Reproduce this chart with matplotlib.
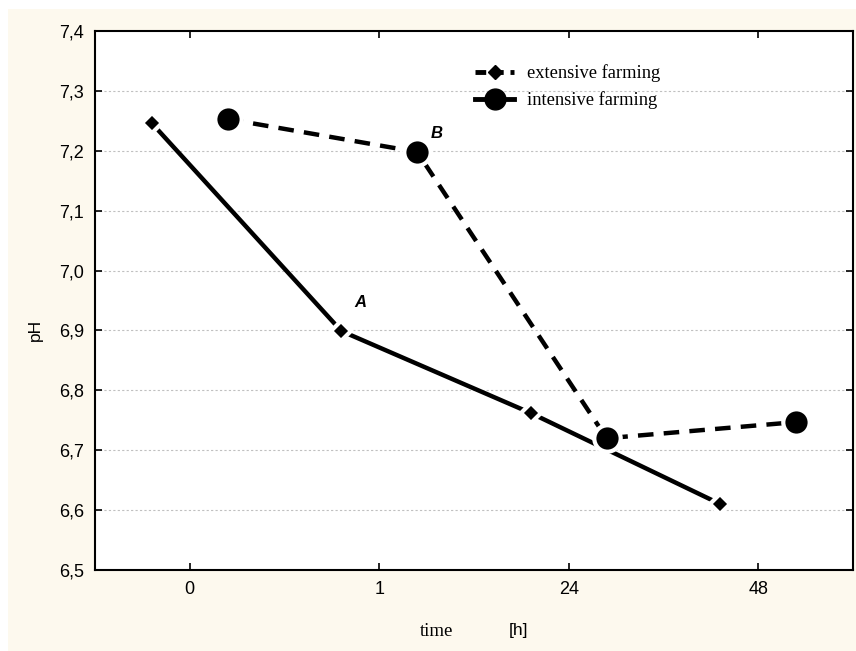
import matplotlib
matplotlib.use("Agg")
import matplotlib.pyplot as plt
from matplotlib.patches import Rectangle
from matplotlib.lines import Line2D
import numpy as np

categories = ["0", "1", "24", "48"]
solid_vals = [7.246, 6.899, 6.762, 6.610]    # small diamonds, solid line
dashed_vals = [7.253, 7.198, 6.720, 6.747]   # big circles, dashed line
yticks = [6.5, 6.6, 6.7, 6.8, 6.9, 7.0, 7.1, 7.2, 7.3, 7.4]
ytick_labels = ["6,5", "6,6", "6,7", "6,8", "6,9", "7,0", "7,1", "7,2", "7,3", "7,4"]

fig = plt.figure(figsize=(8.56, 6.51), dpi=100)
fig.patch.set_facecolor("white")
bg = Rectangle((8/856, 0), 1, 1 - 9/651, transform=fig.transFigure,
               facecolor="#fdf9ee", edgecolor="none", zorder=-10)
fig.add_artist(bg)

ax = fig.add_axes([95/856, 1 - 570/651, (853-95)/856, (570-31)/651])
ax.set_zorder(5)
ax.set_facecolor("white")

x = np.arange(len(categories))
ax.plot(x - 0.2, solid_vals, color="black", lw=3.2, ls="-", marker="D", ms=10,
        mfc="black", mec="white", mew=3, zorder=3)
ax.plot(x + 0.2, dashed_vals, color="black", lw=3.2, ls=(0, (3.5, 2.3)), marker="o", ms=19,
        mfc="black", mec="white", mew=3, zorder=3)

ax.text(0.8 + 0.07, 6.899 + 0.04, "A", fontsize=12, fontweight="bold", fontstyle="italic",
        family="Liberation Sans")
ax.text(1.2 + 0.07, 7.198 + 0.024, "B", fontsize=12, fontweight="bold", fontstyle="italic",
        family="Liberation Sans")

ax.set_xlim(-0.5, 3.5)
ax.set_ylim(6.5, 7.4)
ax.set_xticks(x)
ax.set_xticklabels(categories, family="Liberation Sans", fontsize=13)
ax.set_yticks(yticks)
ax.set_yticklabels(ytick_labels, family="Liberation Sans", fontsize=13)
ax.tick_params(direction="in", length=5, width=1.2, top=True, right=True, pad=8)
for s in ax.spines.values():
    s.set_linewidth(1.5)
for yv in yticks[1:-1]:
    ax.axhline(yv, color="#c0c0c0", lw=0.8, ls=(0, (2, 2)), zorder=1)

h1 = Line2D([], [], color="black", lw=3.5, ls=(0, (2.2, 1.4)), marker="D", ms=7, mfc="black", mec="black")
h2 = Line2D([], [], color="black", lw=3.5, ls="-", marker="o", ms=15, mfc="black", mec="black")
leg = ax.legend([h1, h2], ["extensive farming", "intensive farming"], loc="upper left",
                bbox_to_anchor=((466-95)/758, 1 - (55-31)/539), frameon=False,
                prop={"family": "Liberation Serif", "size": 13.3}, handlelength=2.1,
                labelspacing=0.5, handletextpad=0.7, borderpad=0)

fig.text(437/856, 1 - 632/651, "time", family="Liberation Serif", fontsize=13.5, ha="center", va="center")
fig.text(518/856, 1 - 630/651, "[h]", family="Liberation Sans", fontsize=12.5, ha="center", va="center")
fig.text(35/856, 1 - 330/651, "pH", family="Liberation Sans", fontsize=12.5, rotation=90, ha="center", va="center")

fig.savefig("out.png", dpi=100)
